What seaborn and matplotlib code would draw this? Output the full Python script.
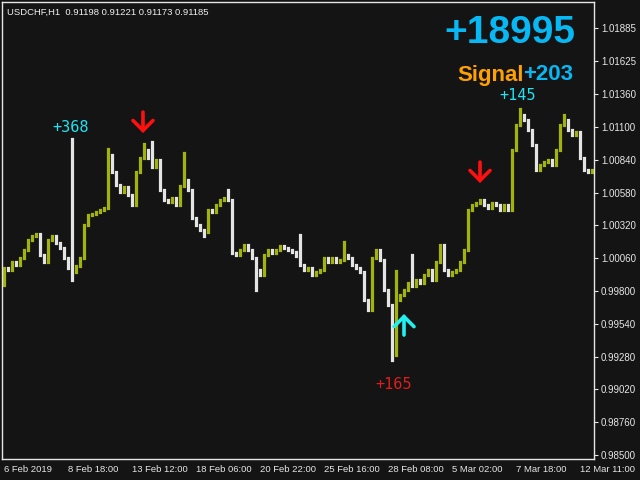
import matplotlib
matplotlib.use("Agg")
import matplotlib.pyplot as plt
import seaborn as sns

# hourly USDCHF closes, one value per ~4 px of the chart
closes = [
    0.99982, 0.99966, 1.00029, 1.00006, 1.00061, 1.00124, 1.00204, 1.00235, 1.00251, 1.00085,
    1.00029, 1.00204, 1.00235, 1.00180, 1.00140, 1.00061, 0.99982, 0.99950, 0.99998, 1.00061,
    1.00322, 1.00402, 1.00409, 1.00425, 1.00441, 1.00457, 1.00877, 1.00742, 1.00639, 1.00584,
    1.00623, 1.00560, 1.00481, 1.00742, 1.00853, 1.00916, 1.00853, 1.00782, 1.00837, 1.00600,
    1.00520, 1.00504, 1.00536, 1.00481, 1.00631, 1.00679, 1.00600, 1.00378, 1.00322, 1.00282,
    1.00267, 1.00441, 1.00425, 1.00481, 1.00520, 1.00536, 1.00520, 1.00101, 1.00085, 1.00124,
    1.00164, 1.00124, 1.00061, 0.99966, 0.99926, 1.00085, 1.00124, 1.00101, 1.00124, 1.00156,
    1.00140, 1.00124, 1.00108, 1.00077, 1.00006, 0.99966, 0.99982, 0.99926, 0.99950, 0.99966,
    1.00061, 1.00029, 1.00061, 1.00029, 1.00045, 1.00085, 1.00061, 1.00006, 0.99982, 0.99950,
    0.99728, 0.99649, 1.00061, 1.00124, 1.00045, 0.99808, 0.99689, 0.99293, 0.99728, 0.99768,
    0.99808, 0.99863, 0.99839, 0.99887, 0.99863, 0.99926, 0.99966, 0.99887, 1.00029, 1.00164,
    0.99966, 0.99926, 0.99950, 0.99966, 1.00029, 1.00124, 1.00441, 1.00481, 1.00497, 1.00520,
    1.00481, 1.00457, 1.00497, 1.00481, 1.00441, 1.00481, 1.00441, 1.00916, 1.01114, 1.01194,
    1.01154, 1.01075, 1.00956, 1.00758, 1.00798, 1.00821, 1.00837, 1.00798, 1.00916, 1.01114,
    1.01154, 1.01075, 1.01035, 1.01059, 1.00853, 1.00758, 1.00742, 1.00758,
]

# long wicks that stick out of the body path
spike_idx = [0, 17, 26, 35, 37, 45, 50, 56, 63, 74, 85, 97, 98, 102, 129, 140]
spike_high = [None, 1.01004, 1.00924, 1.00964, 1.00980, 1.00892, None, 1.00600, None,
              1.00243, 1.00188, None, 0.99958, 1.00085, 1.01241, 1.01194]
spike_low = [0.99848, 0.99887, None, None, None, None, 1.00235, None, 0.99808,
             None, None, 0.99253, None, None, None, None]

y_ticks = [1.01885, 1.01625, 1.01360, 1.01100, 1.00840, 1.00580, 1.00320, 1.00060,
           0.99800, 0.99540, 0.99280, 0.99020, 0.98760, 0.98500]
x_tick_bars = [0, 16, 32, 48, 64, 80, 96, 112, 128, 144]
x_tick_labels = ["6 Feb 2019", "8 Feb 18:00", "13 Feb 12:00", "18 Feb 06:00", "20 Feb 22:00",
                 "25 Feb 16:00", "28 Feb 08:00", "5 Mar 02:00", "7 Mar 18:00", "12 Mar 11:00"]

# signal arrows (tail, head prices) and profit labels
sell_bars = [34.75, 119]
sell_tails = [1.01217, 1.00821]
sell_heads = [1.01051, 1.00655]
buy_bars = [100]
buy_tails = [0.99451]
buy_heads = [0.99617]
profit_bars = [16.75, 128.5, 97.5]
profit_prices = [1.01091, 1.01352, 0.99063]
profit_texts = ["+368", "+145", "+165"]
profit_colors = ["#1ee4f4", "#1ee4f4", "#e01c1c"]

bg = "#141414"
fg = "#e6e6e6"
up_col = "#a2b40c"
dn_col = "#e4e4e4"

sns.set_theme(style="dark", rc={"axes.facecolor": bg, "figure.facecolor": bg,
                                "axes.edgecolor": fg, "text.color": fg,
                                "xtick.color": fg, "ytick.color": fg})
plt.rcParams["font.family"] = ["Liberation Sans", "DejaVu Sans"]

fig = plt.figure(figsize=(6.4, 4.8), dpi=100)
ax = fig.add_axes([2 / 640, 21 / 480, 592 / 640, 457 / 480])

highs, lows, colors = [], [], []
for i, c in enumerate(closes):
    o = closes[i - 1] if i > 0 else c
    highs.append(max(o, c))
    lows.append(min(o, c))
    colors.append(up_col if c >= o else dn_col)
for k, i in enumerate(spike_idx):
    if spike_high[k] is not None:
        highs[i] = spike_high[k]
    if spike_low[k] is not None:
        lows[i] = spike_low[k]

ax.vlines(range(len(closes)), lows, highs, colors=colors, linewidth=2.3, capstyle="projecting")

ax.set_xlim(-0.5, 147.5)
ax.set_ylim(0.98469, 1.02089)
ax.grid(False)
for s in ax.spines.values():
    s.set_color(fg)
    s.set_linewidth(1)

ax.yaxis.tick_right()
ax.set_yticks(y_ticks)
ax.set_yticklabels([f"{v:.5f}" for v in y_ticks], fontsize=7)
ax.set_xticks(x_tick_bars)
ax.set_xticklabels(x_tick_labels, fontsize=6.8, ha="left")
ax.tick_params(axis="both", length=3, width=0.8, direction="out", pad=2)
ax.tick_params(axis="x", pad=1)

arrow_kw = dict(arrowstyle="->,head_length=0.45,head_width=0.45", lw=2.6,
                mutation_scale=16, shrinkA=0, shrinkB=0, joinstyle="miter")
for b, t, h in zip(sell_bars, sell_tails, sell_heads):
    ax.annotate("", xy=(b, h), xytext=(b, t), arrowprops=dict(color="#ff1010", **arrow_kw))
for b, t, h in zip(buy_bars, buy_tails, buy_heads):
    ax.annotate("", xy=(b, h), xytext=(b, t), arrowprops=dict(color="#20f0f0", **arrow_kw))
for b, p, t, col in zip(profit_bars, profit_prices, profit_texts, profit_colors):
    ax.text(b, p, t, color=col, fontsize=11, ha="center", va="center",
            family="DejaVu Sans Mono")

fig.text(7 / 640, 1 - 12 / 480, "USDCHF,H1  0.91198 0.91221 0.91173 0.91185",
         fontsize=6.8, color="#f0f0f0", va="center", ha="left")
fig.text(510 / 640, 1 - 33 / 480, "+18995", fontsize=28, fontweight="bold",
         color="#08b8f4", ha="center", va="center")
t1 = fig.text(457 / 640, 1 - 75 / 480, "Signal", fontsize=16, fontweight="bold",
              color="#ffa200", ha="left", va="center")
fig.canvas.draw()
bb = t1.get_window_extent()
fig.text(bb.x1 / 640, 1 - 75 / 480, "+203", fontsize=16, fontweight="bold",
         color="#08b8f4", ha="left", va="center")

fig.savefig("out.png", dpi=100, facecolor=bg)
